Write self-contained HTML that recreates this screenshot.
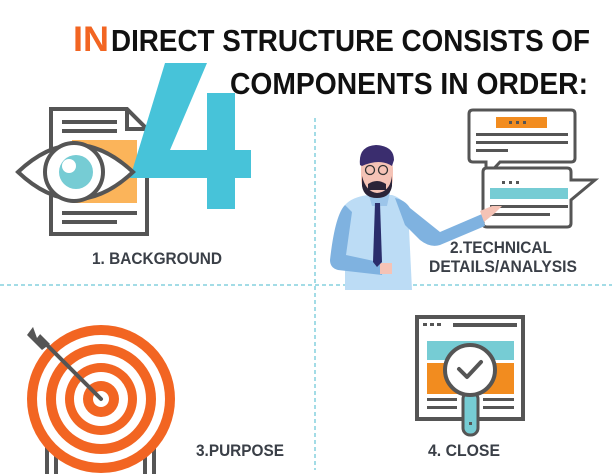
<!DOCTYPE html>
<html><head><meta charset="utf-8"><style>
html,body{margin:0;padding:0;background:#fff}
svg{display:block}
text{font-family:"Liberation Sans",sans-serif;font-weight:bold}
</style></head><body>
<svg width="612" height="474" viewBox="0 0 612 474" xmlns="http://www.w3.org/2000/svg">
<!-- title -->
<text x="73" y="51" font-size="35" fill="#f26522" textLength="36" lengthAdjust="spacingAndGlyphs">IN</text>
<text x="111" y="51" font-size="31" fill="#111" textLength="479" lengthAdjust="spacingAndGlyphs">DIRECT STRUCTURE CONSISTS OF</text>
<text x="230" y="94" font-size="31" fill="#111" textLength="358" lengthAdjust="spacingAndGlyphs">COMPONENTS IN ORDER:</text>

<!-- dashed lines -->
<line x1="315" y1="118" x2="315" y2="470" stroke="#47b8cc" stroke-width="1" stroke-dasharray="4,3"/>
<line x1="0" y1="285" x2="612" y2="285" stroke="#47b8cc" stroke-width="1" stroke-dasharray="4,3"/>

<!-- document -->
<path d="M51 109 H127 L147 129 V234 H51 Z" fill="#fff" stroke="#555" stroke-width="4"/>
<path d="M127 109 V129 H147" fill="none" stroke="#555" stroke-width="4"/>
<rect x="62" y="120" width="55" height="4" fill="#555"/><rect x="62" y="129" width="55" height="4" fill="#555"/>
<rect x="62" y="211" width="75" height="4" fill="#555"/><rect x="62" y="220" width="55" height="4" fill="#555"/>
<rect x="72" y="140" width="65" height="63" fill="#fbb45a"/>
<!-- big 4 -->
<path d="M165 63 H207 L170 150 H207 V93 H235 V150 H251 V178 H235 V209 H207 V178 H130 Z" fill="#47c3d9"/>
<!-- eye -->
<path d="M18 172 Q75 118 133 172 Q75 226 18 172 Z" fill="#fff" stroke="#555" stroke-width="4"/>
<circle cx="74" cy="172" r="29" fill="#fff" stroke="#555" stroke-width="4"/>
<circle cx="76" cy="172" r="17" fill="#76ccd4"/>
<circle cx="69" cy="166" r="7" fill="#fff"/>

<text x="92" y="264" font-size="17" fill="#3a3f47" textLength="130" lengthAdjust="spacingAndGlyphs">1. BACKGROUND</text>

<!-- bubbles -->
<path d="M473 110 H571 Q575 110 575 114 V158 Q575 162 571 162 H500 L486 177 V162 H473 Q469 162 469 158 V114 Q469 110 473 110 Z" fill="#fff" stroke="#555" stroke-width="3"/>
<rect x="496" y="117" width="51" height="11" fill="#f28c1f"/>
<rect x="509" y="121" width="3" height="3" fill="#555"/><rect x="516" y="121" width="3" height="3" fill="#555"/><rect x="523" y="121" width="3" height="3" fill="#555"/>
<rect x="476" y="133" width="92" height="3" fill="#555"/><rect x="476" y="141" width="92" height="3" fill="#555"/><rect x="476" y="149" width="32" height="3" fill="#555"/>
<path d="M487 168 H567 Q571 168 571 172 V180 H595 L571 200 V223 Q571 227 567 227 H487 Q483 227 483 223 V172 Q483 168 487 168 Z" fill="#fff" stroke="#555" stroke-width="3"/>
<rect x="502" y="181" width="3" height="3" fill="#555"/><rect x="509" y="181" width="3" height="3" fill="#555"/><rect x="516" y="181" width="3" height="3" fill="#555"/>
<rect x="490" y="188" width="78" height="11" fill="#76ccd4"/>
<rect x="490" y="205" width="78" height="3" fill="#555"/><rect x="490" y="213" width="60" height="3" fill="#555"/>

<!-- person -->
<path d="M345 205 Q352 197 368 195 L392 195 Q402 198 408 208 L412 290 H345 Z" fill="#bcdcf5"/>
<path d="M345 205 Q335 215 330 260 Q330 268 338 270 L382 275 L383 263 L346 255 L352 212 Z" fill="#7fb2e0"/>
<path d="M395 198 Q405 200 410 208 L440 232 L482 214 L485 226 L440 245 Q430 248 420 240 L405 225 Z" fill="#7fb2e0"/>
<path d="M480 211 L492 206 L502 206 L495 213 L484 222 Z" fill="#f5c3b6"/>
<rect x="380" y="263" width="12" height="11" fill="#f5c3b6"/>
<path d="M368 192 L390 192 L387 206 L372 206 Z" fill="#9cc5ea"/>
<path d="M375 203 L380 203 L382 262 L377 267 L373 262 Z" fill="#2a2d6b"/>
<path d="M361 165 Q362 155 376 155 Q392 155 393 168 L393 180 Q391 195 377 195 Q362 195 361 180 Z" fill="#f5c3b6"/>
<path d="M362 176 Q366 192 377 193 Q390 192 392 176 L392 186 Q390 198 377 198 Q364 198 362 186 Z" fill="#2b2438"/>
<path d="M368 184 Q377 178 386 184 L386 190 H368 Z" fill="#2b2438"/>
<path d="M360 165 Q358 146 376 145 Q394 146 394 160 L392 166 Q380 158 362 166 Z" fill="#3a2d6e"/>
<circle cx="370" cy="170" r="4.5" fill="none" stroke="#333" stroke-width="1.3"/>
<circle cx="383" cy="170" r="4.5" fill="none" stroke="#333" stroke-width="1.3"/>

<text x="450" y="253" font-size="17" fill="#3a3f47" textLength="102" lengthAdjust="spacingAndGlyphs">2.TECHNICAL</text>
<text x="429" y="272" font-size="17" fill="#3a3f47" textLength="148" lengthAdjust="spacingAndGlyphs">DETAILS/ANALYSIS</text>

<!-- target -->
<rect x="45" y="440" width="4" height="34" fill="#555"/><rect x="54" y="440" width="4" height="34" fill="#555"/>
<rect x="143" y="440" width="4" height="34" fill="#555"/><rect x="152" y="440" width="4" height="34" fill="#555"/>
<circle cx="101" cy="399" r="74" fill="#f26522"/>
<circle cx="101" cy="399" r="64" fill="#fff"/>
<circle cx="101" cy="399" r="55" fill="#f26522"/>
<circle cx="101" cy="399" r="45" fill="#fff"/>
<circle cx="101" cy="399" r="36" fill="#f26522"/>
<circle cx="101" cy="399" r="27" fill="#fff"/>
<circle cx="101" cy="399" r="18" fill="#f26522"/>
<circle cx="101" cy="399" r="8" fill="#fff"/>
<line x1="101" y1="399" x2="40" y2="338" stroke="#555" stroke-width="4" stroke-linecap="round"/>
<path d="M27 335 L33 327 L50 344 L42 350 Z" fill="#555"/>
<path d="M33 327 L41 333 L37 338 Z" fill="#fff"/>

<text x="196" y="456" font-size="17" fill="#3a3f47" textLength="88" lengthAdjust="spacingAndGlyphs">3.PURPOSE</text>

<!-- close icon -->
<rect x="417" y="317" width="106" height="102" fill="#fff" stroke="#555" stroke-width="4"/>
<rect x="423" y="323" width="4" height="3" fill="#555"/><rect x="430" y="323" width="4" height="3" fill="#555"/><rect x="437" y="323" width="4" height="3" fill="#555"/>
<rect x="453" y="323" width="64" height="4" fill="#555"/>
<rect x="427" y="341" width="87" height="19" fill="#76ccd4"/>
<rect x="427" y="363" width="87" height="31" fill="#f28c1f"/>
<rect x="427" y="398" width="30" height="3" fill="#555"/><rect x="483" y="398" width="31" height="3" fill="#555"/>
<rect x="427" y="406" width="30" height="3" fill="#555"/><rect x="483" y="406" width="31" height="3" fill="#555"/>
<rect x="463" y="392" width="15" height="43" rx="7" fill="#76ccd4" stroke="#555" stroke-width="3"/>
<rect x="469" y="422" width="3" height="3" fill="#555"/>
<circle cx="470" cy="370" r="25" fill="#fff" stroke="#555" stroke-width="4"/>
<path d="M459 369 L467 377 L481 362" fill="none" stroke="#555" stroke-width="4" stroke-linecap="round" stroke-linejoin="round"/>

<text x="428" y="456" font-size="17" fill="#3a3f47" textLength="72" lengthAdjust="spacingAndGlyphs">4. CLOSE</text>
</svg>
</body></html>
